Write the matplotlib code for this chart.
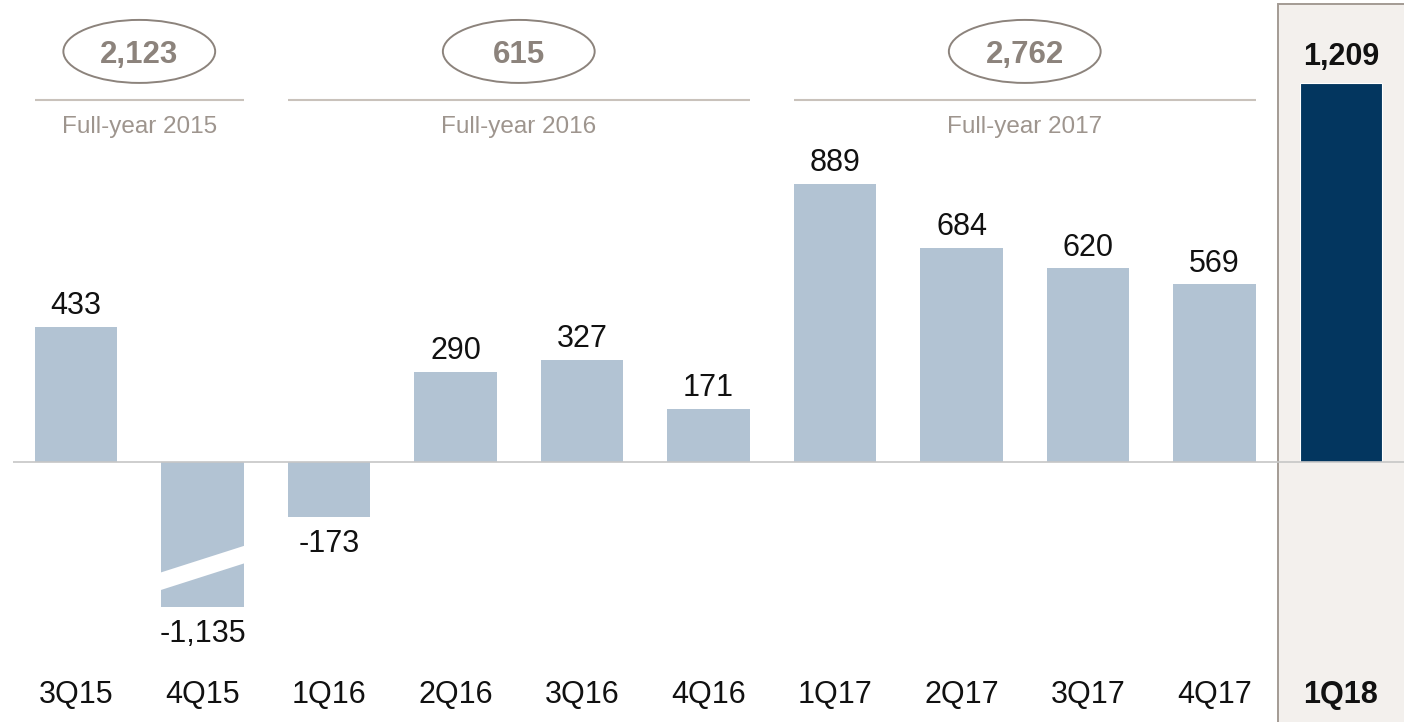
import numpy as np
import matplotlib
matplotlib.use("Agg")
import matplotlib.pyplot as plt
from matplotlib.patches import Ellipse, Rectangle, Polygon

plt.rcParams['font.family'] = ['Liberation Sans', 'DejaVu Sans']

# Quarterly net income, last quarter highlighted
quarters = ['3Q15', '4Q15', '1Q16', '2Q16', '3Q16', '4Q16',
            '1Q17', '2Q17', '3Q17', '4Q17', '1Q18']
net_income = [433, -1135, -173, 290, 327, 171, 889, 684, 620, 569, 1209]

# Full-year totals and the quarters they cover
year_names = ['Full-year 2015', 'Full-year 2016', 'Full-year 2017']
year_totals = [2123, 615, 2762]
year_first = [0, 2, 6]
year_last = [1, 5, 9]

# colours
light_bar = '#b2c3d3'
dark_bar = '#03365f'
panel_bg = '#f3f0ed'
panel_edge = '#a39b94'
taupe = '#8c837c'
taupe_light = '#9e958e'
bracket = '#c9c2bb'

bar_w = 0.65
axis_floor = -460          # bars below this are drawn with a break

fig = plt.figure(figsize=(14.04, 7.22), dpi=100)
ax = fig.add_axes([0, 0, 1, 1])
ax.set_xlim(-0.601, 10.498)
ax.set_ylim(-828, 1475)
ax.axis('off')

x = np.arange(len(quarters))
n = len(quarters)

# highlighted panel behind the latest quarter
ax.add_patch(Rectangle((n - 1.5, -900), 2, 1462 + 900, facecolor=panel_bg,
                       edgecolor=panel_edge, linewidth=1.4, zorder=0))

shown = [max(v, axis_floor) for v in net_income]
colors = [light_bar] * (n - 1) + [dark_bar]
bars = ax.bar(x, shown, width=bar_w, color=colors, zorder=2)
bars[-1].set_edgecolor('white')
bars[-1].set_linewidth(0.8)

# white diagonal cut for bars that run past the floor
for i, v in enumerate(net_income):
    if v < axis_floor:
        x0, x1 = i - bar_w / 2 - 0.02, i + bar_w / 2 + 0.02
        yl, yr, half = -381, -292, 28
        ax.add_patch(Polygon([(x0, yl - half), (x1, yr - half),
                              (x1, yr + half), (x0, yl + half)],
                             closed=True, facecolor='white',
                             edgecolor='none', zorder=3))

# zero line
ax.plot([-0.5, n], [0, 0], color='#c6c6c6', lw=1.2, zorder=4,
        solid_capstyle='butt')

# value labels
for i, (v, s) in enumerate(zip(net_income, shown)):
    last = i == n - 1
    weight = 'bold' if last else 'normal'
    if v >= 0:
        ax.annotate(f'{v:,}', (i, s), xytext=(0, 13 if last else 9),
                    textcoords='offset points', ha='center', va='baseline',
                    fontsize=22, fontweight=weight, color='#111111')
    else:
        ax.annotate(f'{v:,}', (i, s), xytext=(0, -9),
                    textcoords='offset points', ha='center', va='top',
                    fontsize=22, fontweight=weight, color='#111111')

# category labels
for i, q in enumerate(quarters):
    ax.text(i, 0.0263, q, transform=ax.get_xaxis_transform(),
            ha='center', va='baseline', fontsize=22,
            fontweight='bold' if i == n - 1 else 'normal', color='#111111')

# full-year brackets with totals in ellipses
for name, total, a, b in zip(year_names, year_totals, year_first, year_last):
    mid = (a + b) / 2
    ax.plot([a - bar_w / 2, b + bar_w / 2], [1156, 1156], color=bracket,
            lw=1.5, solid_capstyle='butt')
    ax.text(mid, 1050, name, ha='center', va='baseline', fontsize=17.5,
            color=taupe_light)
    ax.add_patch(Ellipse((mid, 1311), 1.2, 201, facecolor='none',
                         edgecolor=taupe, linewidth=1.4))
    ax.text(mid, 1274, f'{total:,}', ha='center', va='baseline',
            fontsize=22.5, fontweight='bold', color=taupe)

fig.savefig('out.png', dpi=100)
